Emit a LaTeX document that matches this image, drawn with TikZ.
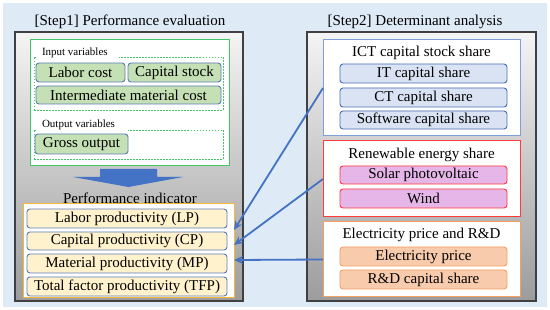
\documentclass[tikz,border=0pt]{standalone}
\usepackage{fontspec}
\setmainfont{Liberation Serif}
\usetikzlibrary{arrows.meta,calc}
\definecolor{bgblue}{HTML}{DEEAF6}
\definecolor{gtop}{HTML}{F4F4F4}
\definecolor{gbot}{HTML}{9C9C9C}
\definecolor{gborder}{HTML}{404040}
\definecolor{greenB}{HTML}{45C46A}
\definecolor{greenF}{HTML}{C5E0B4}
\definecolor{itemB}{HTML}{5B7BB8}
\definecolor{yelB}{HTML}{F5B935}
\definecolor{yelF}{HTML}{FFF2CC}
\definecolor{ictB}{HTML}{7E9EDC}
\definecolor{ictF}{HTML}{DAE3F3}
\definecolor{ictI}{HTML}{4A6FB5}
\definecolor{renB}{HTML}{FF3B3B}
\definecolor{renF}{HTML}{E6B6E8}
\definecolor{eleB}{HTML}{F4A062}
\definecolor{eleF}{HTML}{F8CBAD}
\definecolor{arrowblue}{HTML}{4472C4}
\begin{document}
\begin{tikzpicture}[x=1pt,y=-1pt,
  sz/.style 2 args={minimum width=#1,minimum height=#2},
  every node/.style={inner sep=0pt,outer sep=0pt},
  graybox/.style={draw=gborder,line width=1.6pt,top color=gtop,bottom color=gbot},
  groupbox/.style={draw=#1,fill=white,line width=1pt},
  dashbox/.style={draw=greenB,dashed,dash pattern=on 1.5pt off 1.5pt,line width=0.9pt},
  itemL/.style 2 args={draw=#1,fill=#2,rounded corners=3pt,line width=0.9pt,font=\fontsize{15}{18}\selectfont},
  title/.style={font=\fontsize{15}{18}\selectfont},
  small/.style={font=\fontsize{11}{13}\selectfont},
  conn/.style={draw=arrowblue,line width=1.8pt,-{Stealth[length=9pt,width=8pt]}}
]
\useasboundingbox (0,0) rectangle (550,310);
\fill[bgblue] (3,3) rectangle (547,307);

% titles
\node[title] (s1) at (130,22) {[Step1] Performance evaluation};
\node[title] (s2) at (415,22) {[Step2] Determinant analysis};

% left gray panel
\node[graybox,sz={228pt}{269pt}] (gL) at (129,166.5) {};
\node[groupbox=greenB,sz={199pt}{126pt}] (grn) at (129.5,103) {};
\node[dashbox,sz={189pt}{53pt}] (din) at (128.5,83.5) {};
\fill[white] (35.5,50) rectangle (119,59);
\node[small,anchor=base west] (lin) at (42,56) {Input variables};
\node[itemL={itemB}{greenF},sz={89pt}{19pt}] (lc) at (80.5,72.5) {Labor cost};
\node[itemL={itemB}{greenF},sz={93pt}{19pt}] (cs) at (174.5,72.5) {Capital stock};
\node[itemL={itemB}{greenF},sz={185pt}{18pt}] (imc) at (128.5,95) {Intermediate material cost};
\node[dashbox,sz={189pt}{29pt}] (dout) at (128.5,144.5) {};
\fill[white] (35.5,118) rectangle (128,132);
\node[small,anchor=base west] (lout) at (42,128) {Output variables};
\node[itemL={itemB}{greenF},sz={93pt}{20pt}] (go) at (81.5,144) {Gross output};

% big arrow
\fill[arrowblue] (100,169) -- (157,169) -- (157,177) -- (183,177) -- (128.5,187) -- (73,177) -- (100,177) -- cycle;

\node[title] (pi) at (130,198) {Performance indicator};
\node[groupbox=yelB,sz={211pt}{94pt}] (yel) at (128.5,251) {};
\node[itemL={itemB}{yelF},sz={200pt}{19pt}] (lp) at (127,218.5) {Labor productivity (LP)};
\node[itemL={itemB}{yelF},sz={200pt}{18pt}] (cp) at (127,241) {Capital productivity (CP)};
\node[itemL={itemB}{yelF},sz={200pt}{19pt}] (mp) at (127,263.5) {Material productivity (MP)};
\node[itemL={itemB}{yelF},sz={200pt}{19pt}] (tfp) at (127,286.5) {Total factor productivity (TFP)};

% right gray panel
\node[graybox,sz={229pt}{269pt}] (gR) at (421.5,166.5) {};
\node[groupbox=ictB,sz={197pt}{96pt}] (ict) at (421.5,88) {};
\node[title] (ictt) at (421.5,53) {ICT capital stock share};
\node[itemL={ictI}{ictF},sz={167pt}{19pt}] (it) at (423.5,73.5) {IT capital share};
\node[itemL={ictI}{ictF},sz={167pt}{19pt}] (ct) at (423.5,97.5) {CT capital share};
\node[itemL={ictI}{ictF},sz={167pt}{18pt}] (sw) at (423.5,120) {Software capital share};

\node[groupbox=renB,sz={197pt}{76pt}] (ren) at (421.5,179) {};
\node[title] (rent) at (421.5,155) {Renewable energy share};
\node[itemL={renB}{renF},sz={167pt}{18pt}] (pv) at (423.5,175) {Solar photovoltaic};
\node[itemL={renB}{renF},sz={167pt}{19pt}] (wd) at (423.5,198.5) {Wind};

\node[groupbox=eleB,sz={197pt}{75pt}] (ele) at (421.5,259.5) {};
\node[title] (elet) at (421.5,235) {Electricity price and R\&D};
\node[itemL={eleB}{eleF},sz={167pt}{19pt}] (ep) at (423.5,256.5) {Electricity price};
\node[itemL={eleB}{eleF},sz={167pt}{19pt}] (rd) at (423.5,279.5) {R\&D capital share};

% connectors
\coordinate (t1) at (234,230);
\coordinate (t2) at (234,245);
\coordinate (t3) at (234,260);
\draw[conn] (ict.west) -- (t1);
\draw[conn] (ren.west) -- (t2);
\draw[conn] (ele.west) -- (t3);
\end{tikzpicture}
\end{document}
